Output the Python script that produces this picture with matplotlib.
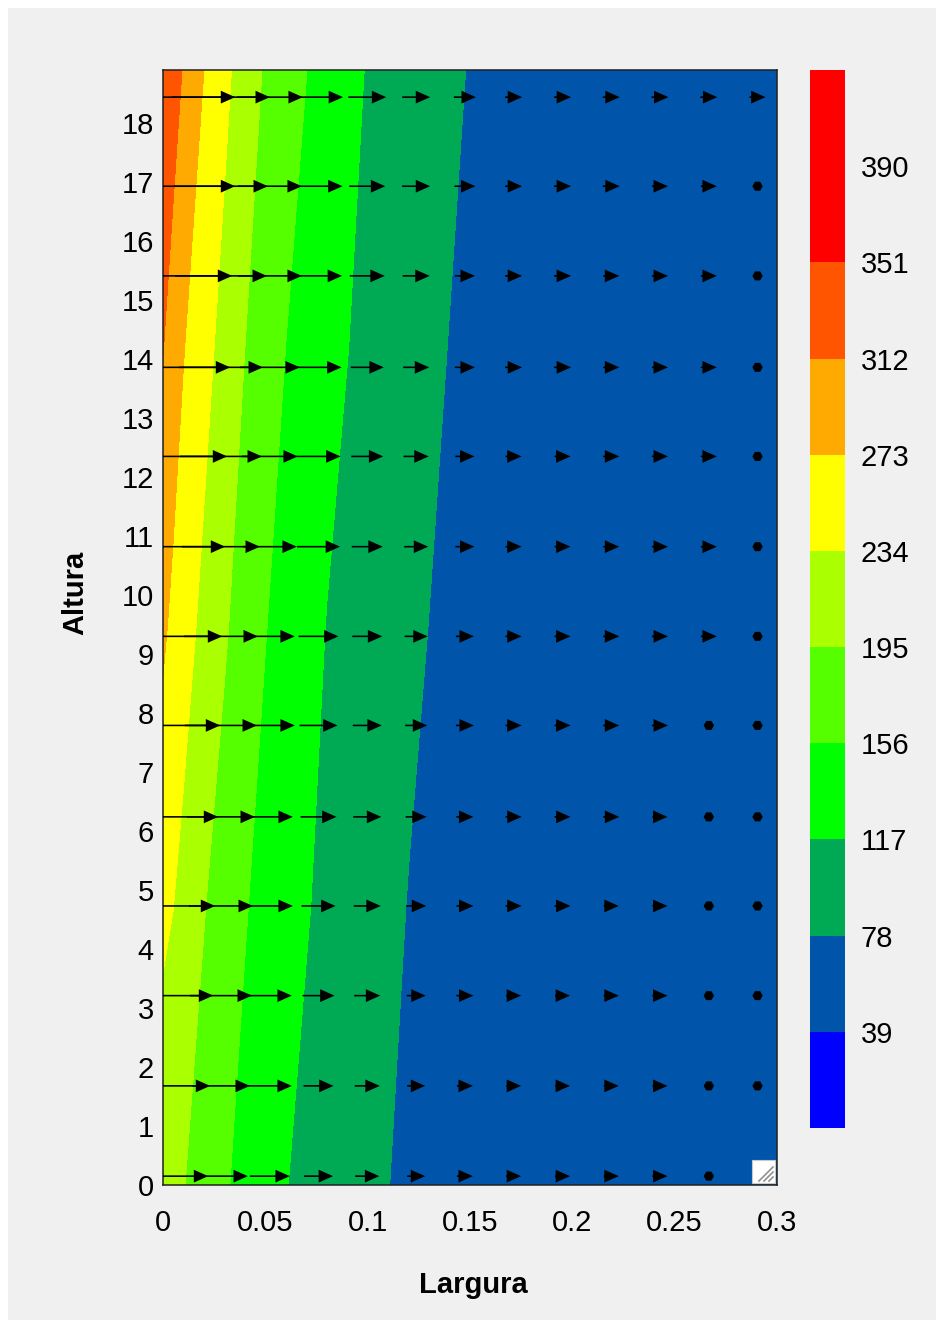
import matplotlib
matplotlib.use('Agg')
import numpy as np
import matplotlib.pyplot as plt
from matplotlib.patches import Rectangle
from matplotlib.lines import Line2D

plt.rcParams['font.family'] = ['Liberation Sans', 'DejaVu Sans']

# Campo de temperatura (nós da malha)
largura_nos = [0, 0.005, 0.01, 0.02, 0.03, 0.04, 0.05, 0.06, 0.08, 0.1, 0.12, 0.15, 0.2, 0.3]
altura_nos = [0, 4.725, 9.45, 14.175, 18.9]
temperatura = [
    [218, 207.0, 196.5, 178.0, 160.0, 145.0, 131.5, 118.0, 101.0, 85.0, 72.0, 57.0, 48.0, 42.0],
    [239, 234.4, 222.3, 196.8, 177.4, 158.5, 144.0, 130.0, 108.7, 92.5, 77.0, 61.0, 50.0, 43.0],
    [280, 263.4, 250.0, 224.0, 199.4, 178.0, 157.2, 143.0, 116.0, 100.0, 84.0, 65.0, 52.0, 44.0],
    [313, 294.0, 274.5, 247.0, 220.7, 195.0, 175.3, 155.7, 128.0, 107.4, 91.5, 70.0, 55.0, 45.0],
    [346, 327.7, 309.4, 273.0, 243.5, 216.0, 191.0, 172.5, 140.7, 114.8, 99.0, 76.4, 58.0, 46.0],
]

niveis = [0, 39, 78, 117, 156, 195, 234, 273, 312, 351, 390, 429]
cores = ['#0000FF', '#0055AA', '#00AA55', '#00FF00', '#55FF00', '#AAFF00',
         '#FFFF00', '#FFAA00', '#FF5500', '#FF0000', '#FF0000']
rotulos_barra = [39, 78, 117, 156, 195, 234, 273, 312, 351, 390]

# Campo de velocidade (mm/s), linhas de cima para baixo
seta_x = [0.0045, 0.0283, 0.0522, 0.0760, 0.0998, 0.1237, 0.1475,
          0.1713, 0.1952, 0.2190, 0.2428, 0.2667, 0.2905]
seta_y = [18.44, 16.93, 15.41, 13.86, 12.35, 10.82, 9.30,
          7.79, 6.24, 4.73, 3.21, 1.68, 0.15]
vel_u = [
    [126, 98, 66, 49, 38, 28, 22, 17, 17, 17, 17, 17, 16],
    [126, 94, 64, 48, 36, 28, 21, 17, 17, 17, 16, 16, 0],
    [120, 92, 64, 47, 35, 27, 20, 17, 17, 16, 16, 16, 0],
    [116, 84, 60, 46, 33, 26, 20, 17, 17, 16, 16, 16, 0],
    [110, 82, 56, 44, 32, 25, 19, 16, 16, 16, 16, 16, 0],
    [106, 78, 54, 43, 31, 24, 19, 16, 16, 16, 16, 16, 0],
    [100, 74, 50, 40, 30, 23, 18, 16, 16, 16, 16, 16, 0],
    [96, 72, 50, 38, 29, 22, 18, 16, 16, 16, 16, 0, 0],
    [92, 68, 46, 36, 28, 21, 17, 16, 16, 16, 15, 0, 0],
    [86, 64, 46, 34, 27, 20, 17, 16, 16, 15, 15, 0, 0],
    [82, 62, 44, 32, 26, 19, 17, 15, 15, 15, 15, 0, 0],
    [76, 58, 44, 30, 25, 18, 16, 15, 15, 15, 15, 0, 0],
    [72, 54, 40, 29, 24, 18, 16, 15, 15, 15, 15, 0, 0],
]

W, H = 944, 1327
fig = plt.figure(figsize=(W / 100, H / 100), dpi=100, facecolor='white')
fig.add_artist(Rectangle((8 / W, 7 / H), 928 / W, 1312 / H, transform=fig.transFigure,
                         facecolor='#F0F0F0', edgecolor='none', zorder=-10))

ax = fig.add_axes([163 / W, 1 - 1185 / H, 614 / W, 1115 / H])
X, Y = np.meshgrid(largura_nos, altura_nos)
cf = ax.contourf(X, Y, np.array(temperatura), levels=niveis, colors=cores)

QX, QY = np.meshgrid(seta_x, seta_y)
U = np.array(vel_u, dtype=float)
ax.quiver(QX, QY, U, np.zeros_like(U), pivot='middle', units='dots', width=1.6,
          scale=1, scale_units='dots', headwidth=8, headlength=9, headaxislength=9,
          minlength=6.5, color='black', zorder=3)

ax.set_xlim(0, 0.3)
ax.set_ylim(0, 18.9)
ax.set_xticks([0, 0.05, 0.1, 0.15, 0.2, 0.25, 0.3])
ax.set_xticklabels(['0', '0.05', '0.1', '0.15', '0.2', '0.25', '0.3'])
ax.set_yticks(range(0, 19))
ax.tick_params(axis='x', length=0, labelsize=21, pad=17.5)
ax.tick_params(axis='y', length=0, labelsize=21, pad=6.5)
for s in ax.spines.values():
    s.set_linewidth(1.1)
    s.set_color('#202020')

# barra de cores
cax = fig.add_axes([810 / W, 1 - 1128 / H, 35 / W, 1058 / H])
cb = fig.colorbar(cf, cax=cax, ticks=rotulos_barra)
cb.outline.set_visible(False)
cb.ax.tick_params(length=0, labelsize=21, pad=11.5)

fig.text(473 / W, 1 - 1285 / H, 'Largura', ha='center', va='center',
         fontsize=21, fontweight='bold')
fig.text(75 / W, 1 - 593 / H, 'Altura', ha='center', va='center',
         fontsize=21, fontweight='bold', rotation=90)

# alça de redimensionamento no canto
fig.add_artist(Rectangle((752 / W, 1 - 1183 / H), 23 / W, 23 / H, transform=fig.transFigure,
                         facecolor='white', edgecolor='#C8C8C8', lw=0.8, zorder=5))
for k in (4, 9, 14):
    fig.add_artist(Line2D([(773 - k) / W, 773 / W], [1 - 1181 / H, 1 - (1181 - k) / H],
                          transform=fig.transFigure, color='#909090', lw=1.2, zorder=6))

fig.savefig('out.png', dpi=100, facecolor=fig.get_facecolor())
